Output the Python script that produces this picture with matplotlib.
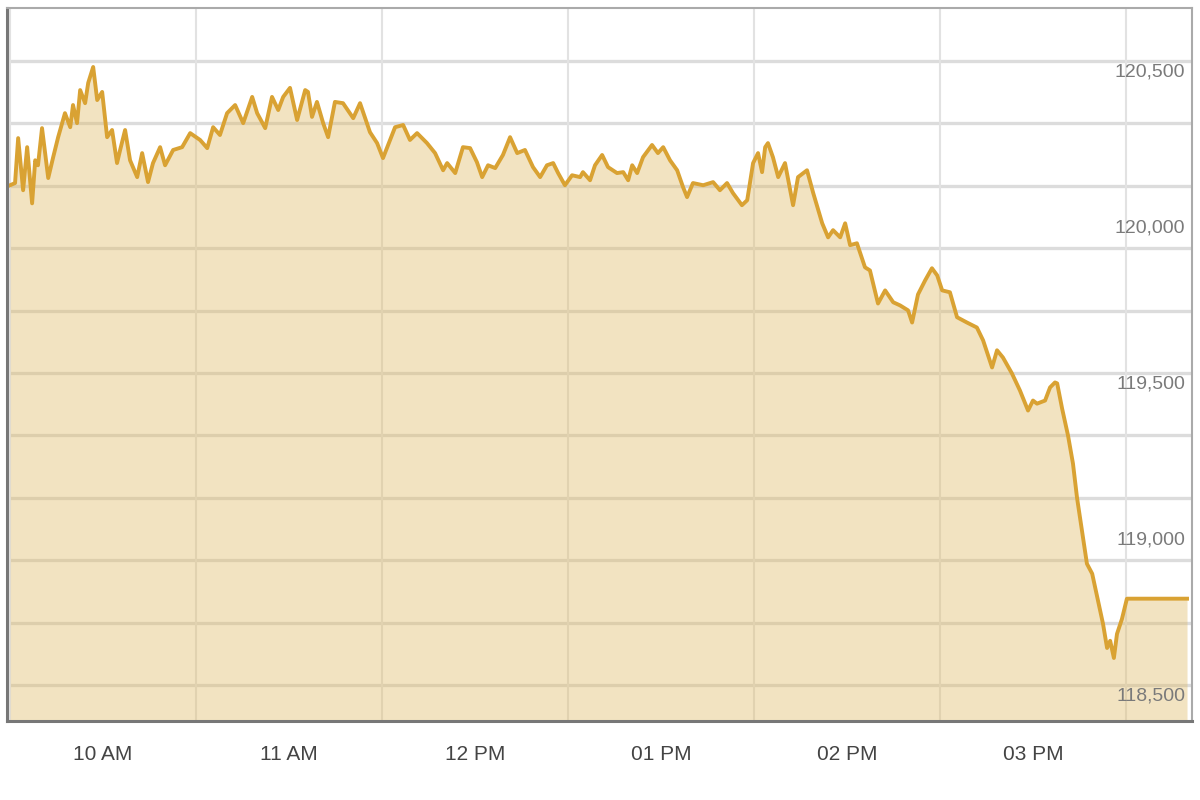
"""Intraday index chart: gold line over a light fill, labels on the right."""

import matplotlib
matplotlib.use("Agg")
import matplotlib.pyplot as plt
import matplotlib.dates as mdates
import pandas as pd

# ── Data ──────────────────────────────────────────────────────────────────────
SESSION_START = "2024-01-01 09:30"

# minutes after the 09:30 open
minutes = [
    0.0, 1.6, 2.6, 4.2, 5.5, 7.1, 8.1, 9.0, 10.3, 12.3, 13.9, 15.5, 17.7, 19.4,
    20.3, 21.6, 22.6, 24.2, 25.2, 26.8, 28.1, 29.7, 30.6, 31.3, 32.9, 34.5,
    35.5, 37.1, 38.7, 41.0, 42.6, 44.5, 46.1, 48.4, 50.0, 52.6, 55.5, 58.1,
    61.3, 63.6, 65.5, 67.7, 70.0, 72.6, 75.2, 78.1, 79.7, 82.3, 84.5, 86.5,
    88.1, 90.3, 92.6, 95.2, 96.1, 97.4, 99.0, 101.0, 102.6, 104.8, 107.4,
    110.7, 112.9, 116.1, 118.4, 120.3, 122.6, 124.2, 126.8, 129.0, 131.3,
    134.5, 137.1, 139.7, 141.0, 143.6, 146.1, 148.4, 150.6, 152.3, 154.2,
    156.5, 159.0, 161.3, 163.6, 166.1, 168.7, 171.0, 173.2, 175.2, 176.8,
    179.0, 181.3, 183.9, 184.8, 187.1, 188.7, 191.0, 192.9, 195.8, 197.8,
    199.4, 200.7, 202.3, 204.2, 207.1, 209.0, 210.7, 212.9, 215.2, 217.1,
    218.4, 220.3, 223.6, 226.8, 229.0, 231.3, 233.2, 236.1, 237.8, 239.7,
    241.3, 242.6, 243.6, 244.5, 246.1, 247.8, 250.0, 252.6, 254.2, 257.1,
    259.1, 262.0, 263.9, 265.5, 267.8, 269.4, 271.0, 273.2, 275.8, 277.4,
    280.0, 282.3, 284.9, 287.1, 289.7, 291.0, 292.9, 295.2, 297.4, 299.1,
    300.7, 303.2, 305.5, 308.7, 311.9, 313.9, 316.8, 318.4, 320.3, 323.2,
    325.8, 328.4, 330.0, 331.3, 333.9, 335.5, 337.1, 337.8, 339.4, 341.3,
    342.9, 344.2, 345.8, 347.4, 349.1, 351.0, 352.6, 353.9, 354.9, 356.1,
    357.1, 358.7, 360.3, 379.7,
]

index_level = [
    120202, 120209, 120353, 120186, 120324, 120144, 120282, 120266, 120385,
    120225, 120292, 120356, 120433, 120388, 120459, 120401, 120507, 120465,
    120530, 120581, 120475, 120501, 120421, 120356, 120379, 120273, 120315,
    120379, 120282, 120228, 120305, 120212, 120273, 120324, 120266, 120315,
    120324, 120369, 120347, 120321, 120388, 120363, 120433, 120459, 120401,
    120485, 120433, 120385, 120485, 120443, 120485, 120514, 120411, 120507,
    120501, 120421, 120469, 120401, 120356, 120469, 120465, 120417, 120465,
    120372, 120337, 120289, 120347, 120388, 120395, 120347, 120369, 120337,
    120305, 120250, 120273, 120241, 120324, 120321, 120276, 120228, 120266,
    120257, 120299, 120356, 120305, 120315, 120260, 120228, 120266, 120273,
    120241, 120202, 120234, 120228, 120244, 120218, 120266, 120299, 120260,
    120241, 120244, 120218, 120266, 120241, 120292, 120331, 120305, 120324,
    120282, 120250, 120196, 120164, 120209, 120202, 120212, 120186, 120209,
    120177, 120138, 120154, 120273, 120305, 120244, 120324, 120337, 120292,
    120228, 120273, 120138, 120228, 120250, 120177, 120080, 120035, 120058,
    120035, 120080, 120010, 120016, 119939, 119929, 119823, 119865, 119827,
    119817, 119801, 119762, 119852, 119897, 119936, 119913, 119865, 119859,
    119779, 119762, 119746, 119705, 119618, 119673, 119650, 119599, 119544,
    119480, 119512, 119502, 119512, 119554, 119570, 119567, 119486, 119400,
    119310, 119201, 119095, 118989, 118957, 118870, 118796, 118719, 118742,
    118687, 118764, 118812, 118877, 118877,
]

y_labels = [118500, 119000, 119500, 120000, 120500]
grid_levels = [118600, 118800, 119000, 119200, 119400, 119600, 119800,
               120000, 120200, 120400, 120600]

# ── Style ─────────────────────────────────────────────────────────────────────
LINE_COLOR = "#d9a233"
FILL_COLOR = "#e0bb66"
GRID_COLOR = "#dcdcdc"
FONT = ["Liberation Sans", "DejaVu Sans"]

times = pd.Timestamp(SESSION_START) + pd.to_timedelta(minutes, unit="min")

fig = plt.figure(figsize=(12, 8), dpi=100)
ax = fig.add_axes([7 / 1200, 1 - 721 / 800, 1185 / 1200, 713 / 800])

# grid first so the translucent fill tints it
for lvl in grid_levels:
    ax.axhline(lvl, color=GRID_COLOR, linewidth=2.4, zorder=0)
ax.xaxis.set_minor_locator(mdates.MinuteLocator(byminute=[0, 30]))
ax.grid(True, which="minor", axis="x", color="#e2e2e2", linewidth=1.5, zorder=0)
ax.set_axisbelow(True)

y_floor = 118300
ax.fill_between(times, index_level, y_floor, color=FILL_COLOR, alpha=0.4,
                linewidth=0, zorder=1)
ax.plot(times, index_level, color=LINE_COLOR, linewidth=2.8, zorder=2,
        solid_joinstyle="round")

ax.set_xlim(pd.Timestamp(SESSION_START) - pd.Timedelta(minutes=1),
            pd.Timestamp(SESSION_START) + pd.Timedelta(minutes=381.3))
ax.set_ylim(118485, 120770)

ax.xaxis.set_major_locator(mdates.HourLocator())
ax.xaxis.set_major_formatter(mdates.DateFormatter("%I %p"))
ax.tick_params(axis="x", which="both", length=0, pad=17, labelsize=15,
               labelcolor="#444444")
for lab in ax.get_xticklabels():
    lab.set_family(FONT)
ax.set_yticks([])

for val in y_labels:
    ax.annotate(f"{val:,}", xy=(1, val), xycoords=("axes fraction", "data"),
                xytext=(-5, 14.5), textcoords="offset points",
                ha="right", va="center", fontsize=14, color="#7a7a7a",
                family=FONT, zorder=3)

for side in ("top", "right"):
    ax.spines[side].set_color("#aaaaaa")
    ax.spines[side].set_linewidth(1.5)
for side in ("left", "bottom"):
    ax.spines[side].set_color("#777777")
    ax.spines[side].set_linewidth(2.2)

fig.savefig("out.png", dpi=100)
